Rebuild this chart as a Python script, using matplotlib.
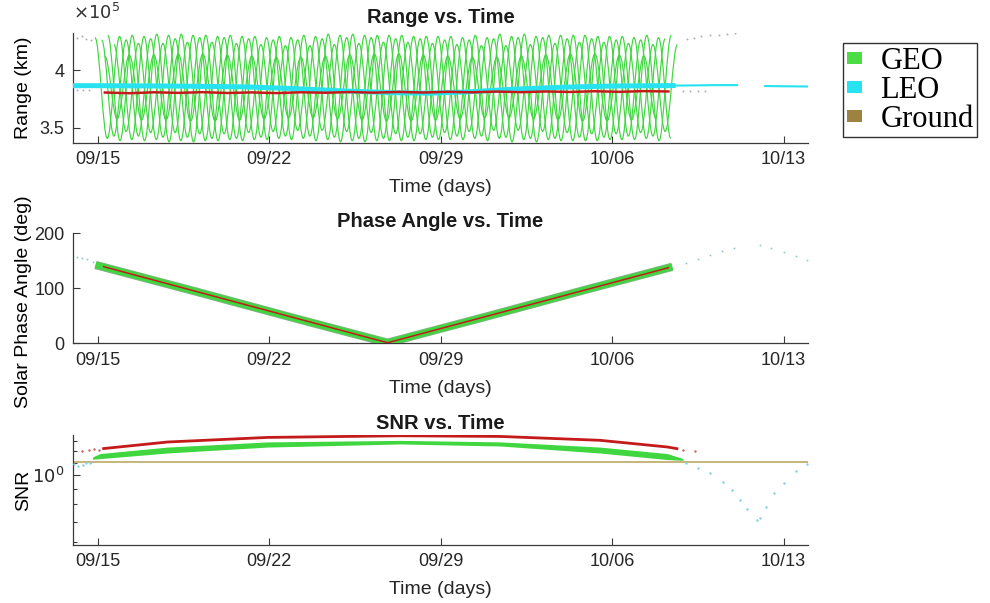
import numpy as np
import matplotlib
matplotlib.use("Agg")
import matplotlib.pyplot as plt
from matplotlib.path import Path
from matplotlib.patches import PathPatch, Patch
from matplotlib.ticker import FixedLocator, NullFormatter, FixedFormatter

plt.rcParams['font.family'] = ['Liberation Sans', 'DejaVu Sans']

# ---------------- data (time in days since 09/15 00:00) ----------------
tick_days = [0, 7, 14, 21, 28]
tick_labels = ["09/15", "09/22", "09/29", "10/06", "10/13"]
x_limits = (-1.0, 29.0)

# GEO observers: range to target (1e5 km), alternating peak / trough every half day
geo_start_day = [-0.10, 0.17, 0.42, 0.67, 0.30]
geo_a_peaks = [4.28,4.29,4.29,4.30,4.30,4.29,4.29,4.28,4.28,4.29,4.30,4.30,4.30,4.29,4.29,4.28,4.28,4.29,4.29,4.30,4.30,4.29,4.28,4.28]
geo_a_troughs = [3.41,3.40,3.40,3.39,3.39,3.40,3.40,3.41,3.41,3.40,3.39,3.39,3.39,3.40,3.40,3.41,3.41,3.40,3.40,3.39,3.39,3.40,3.41,3.41]
geo_b_peaks = [4.26,4.26,4.27,4.27,4.28,4.28,4.27,4.26,4.26,4.27,4.28,4.28,4.27,4.27,4.26,4.26,4.27,4.28,4.28,4.27,4.27,4.26,4.26,4.27]
geo_b_troughs = [3.43,3.43,3.42,3.42,3.41,3.41,3.42,3.43,3.43,3.42,3.41,3.41,3.42,3.42,3.43,3.43,3.42,3.41,3.41,3.42,3.42,3.43,3.43]
geo_c_peaks = [4.30,4.30,4.31,4.31,4.30,4.30,4.29,4.29,4.30,4.31,4.31,4.30,4.30,4.29,4.29,4.30,4.31,4.31,4.30,4.30,4.29,4.29,4.30,4.30]
geo_c_troughs = [3.39,3.39,3.38,3.38,3.39,3.39,3.40,3.40,3.39,3.38,3.38,3.39,3.39,3.40,3.40,3.39,3.38,3.38,3.39,3.39,3.40,3.40,3.39]
geo_d_peaks = [4.22,4.23,4.23,4.24,4.24,4.23,4.22,4.21,4.21,4.22,4.23,4.24,4.24,4.23,4.22,4.21,4.21,4.22,4.23,4.24,4.24,4.23,4.22,4.22]
geo_d_troughs = [3.47,3.46,3.46,3.45,3.45,3.46,3.47,3.48,3.48,3.47,3.46,3.45,3.45,3.46,3.47,3.48,3.48,3.47,3.46,3.45,3.45,3.46,3.47]
geo_e_peaks = [4.12,4.13,4.13,4.14,4.14,4.13,4.12,4.11,4.11,4.12,4.13,4.14,4.14,4.13,4.12,4.11,4.11,4.12,4.13,4.14,4.14,4.13,4.12]
geo_e_troughs = [3.58,3.57,3.57,3.56,3.56,3.57,3.58,3.59,3.59,3.58,3.57,3.56,3.56,3.57,3.58,3.59,3.59,3.58,3.57,3.56,3.56,3.57,3.58]

# LEO range band (1e5 km)
leo_days = [-1.0, 0.0, 3.0, 6.0, 8.0, 10.0, 12.0, 13.5, 15.0, 17.0, 19.0, 21.0, 23.6]
leo_range = [3.865, 3.865, 3.862, 3.855, 3.84, 3.82, 3.805, 3.80, 3.81, 3.835, 3.852, 3.862, 3.866]
leo_tail_days = [23.6, 24.5, 25.3, 26.1]
leo_tail_range = [3.866, 3.868, 3.870, 3.870]
leo_late_days = [27.25, 28.0, 29.0]
leo_late_range = [3.862, 3.860, 3.858]

# Ground range (1e5 km)
ground_range_days = [0.3,1.3,2.3,3.3,4.3,5.3,6.3,7.3,8.3,9.3,10.3,11.3,12.3,13.3,14.3,15.3,16.3,17.3,18.3,19.3,20.3,21.3,22.3,23.3]
ground_range = [3.806,3.800,3.808,3.803,3.809,3.802,3.807,3.801,3.808,3.804,3.810,3.805,3.811,3.806,3.812,3.808,3.814,3.809,3.815,3.811,3.817,3.812,3.818,3.815]

# faint points outside GEO coverage (range plot)
faint_range_days = [-0.85, -0.65, -0.45, -0.25, 24.05, 24.35, 24.65, 25.0, 25.35, 25.7, 26.0,
                    -0.85, -0.6, -0.35, 23.9, 24.2, 24.5, 24.8]
faint_range_vals = [4.28, 4.29, 4.27, 4.26, 4.27, 4.28, 4.29, 4.30, 4.305, 4.31, 4.32,
                    3.83, 3.83, 3.83, 3.82, 3.82, 3.82, 3.82]

# Solar phase angle (deg)
phase_days = [-0.08, 4.0, 8.0, 11.84, 16.0, 20.0, 23.46]
phase_geo = [142, 94, 46, 1, 50, 98, 138.7]
phase_ground_days = [0.25, 11.84, 23.3]
phase_ground = [139, 1, 137]
phase_faint_days = [-0.83, -0.62, -0.42, -0.2, 24.0, 24.5, 25.0, 25.5, 25.96, 27.06, 27.5, 28.0, 28.5, 28.97]
phase_faint = [156, 154, 152, 148, 146, 153, 160, 167, 173, 178, 172, 165, 158, 151]

# SNR
snr_ground_days = [-1.0, 29.0]
snr_ground = [1.105, 1.105]
snr_geo_days = [-0.2, 0.1, 2.86, 6.94, 12.37, 16.45, 20.5, 23.25, 23.9]
snr_geo_hi = [1.15, 1.18, 1.24, 1.29, 1.305, 1.29, 1.24, 1.18, 1.135]
snr_geo_lo = [1.13, 1.135, 1.185, 1.24, 1.27, 1.25, 1.185, 1.127, 1.12]
snr_red_days = [0.25, 2.86, 6.94, 12.37, 16.45, 20.5, 23.25, 23.65]
snr_red = [1.226, 1.289, 1.335, 1.352, 1.345, 1.306, 1.241, 1.225]
snr_red_dot_days = [-0.65, -0.35, -0.15, 0.05, 23.9, 24.4]
snr_red_dot = [1.20, 1.21, 1.22, 1.215, 1.21, 1.20]
snr_leo_days = [-0.95, -0.8, -0.6, -0.45, -0.3, 24.0, 24.5, 25.0, 25.55, 25.9, 26.24, 26.5, 26.9,
                27.05, 27.3, 27.6, 28.0, 28.5, 28.97]
snr_leo = [1.09, 1.075, 1.08, 1.095, 1.10, 1.096, 1.06, 1.02, 0.95, 0.89, 0.83, 0.77, 0.71,
           0.72, 0.785, 0.87, 0.94, 1.03, 1.09]

legend_labels = ["GEO", "LEO", "Ground"]

# ---------------- colours ----------------
c_geo = '#3fd63f'
c_leo = '#27e3ef'
c_red = '#c41a1a'
c_ground = '#c2b070'
c_axis = '#3a3a3a'


def wave_path(t, v, k=0.364):
    verts = [(t[0], v[0])]
    codes = [Path.MOVETO]
    for i in range(1, len(t)):
        h = t[i] - t[i - 1]
        verts += [(t[i - 1] + k * h, v[i - 1]), (t[i] - k * h, v[i]), (t[i], v[i])]
        codes += [Path.CURVE4] * 3
    return Path(verts, codes)


def interleave(peaks, troughs):
    out = []
    for i in range(len(peaks) + len(troughs)):
        out.append(peaks[i // 2] if i % 2 == 0 else troughs[i // 2])
    return out


fig = plt.figure(figsize=(9.9, 6.03), dpi=100)
L, W = 73 / 990, 735 / 990
ax1 = fig.add_axes([L, 1 - 143 / 603, W, 110 / 603])
ax2 = fig.add_axes([L, 1 - 343.3 / 603, W, 110.3 / 603])
ax3 = fig.add_axes([L, 1 - 545 / 603, W, 110 / 603])

# ---- Range ----
traces = [(geo_a_peaks, geo_a_troughs), (geo_b_peaks, geo_b_troughs), (geo_c_peaks, geo_c_troughs),
          (geo_d_peaks, geo_d_troughs), (geo_e_peaks, geo_e_troughs)]
for (pk, tr), t0 in zip(traces, geo_start_day):
    vals = interleave(pk, tr)
    t = t0 + 0.5 * np.arange(len(vals))
    ax1.add_patch(PathPatch(wave_path(t, vals), facecolor='none', edgecolor=c_geo, lw=0.85, zorder=2))
ax1.scatter(faint_range_days, faint_range_vals, s=2, color='#a8b0b8', zorder=2, linewidths=0)
ax1.plot(leo_days, leo_range, color=c_leo, lw=3.6, zorder=3, solid_capstyle='butt')
ax1.plot(leo_tail_days, leo_tail_range, color=c_leo, lw=1.5, zorder=3)
ax1.plot(leo_late_days, leo_late_range, color=c_leo, lw=1.5, zorder=3)
ax1.plot(ground_range_days, ground_range, color=c_red, lw=1.8, zorder=4)
ax1.set_ylim(3.37, 4.32)
ax1.set_yticks([3.5, 4.0])
ax1.set_yticklabels(["3.5", "4"])
ax1.set_title("Range vs. Time", fontsize=14.5, fontweight='bold', pad=7)
ax1.set_ylabel("Range (km)", fontsize=14)
ax1.text(0.0, 1.09, r"$\times10^5$", transform=ax1.transAxes, fontsize=13, color='#333333',
         ha='left', va='bottom')

# ---- Phase angle ----
ax2.scatter(phase_faint_days, phase_faint, s=2, color='#9cc8d0', zorder=2, linewidths=0)
ax2.plot(phase_days, phase_geo, color='#7cb47c', lw=6.0, zorder=2, solid_capstyle='butt')
ax2.plot(phase_days, phase_geo, color=c_geo, lw=4.6, zorder=3, solid_capstyle='butt')
ax2.plot(phase_ground_days, phase_ground, color=c_red, lw=1.1, zorder=4)
ax2.set_ylim(0, 200)
ax2.set_yticks([0, 100, 200])
ax2.set_title("Phase Angle vs. Time", fontsize=14.5, fontweight='bold', pad=4)
ax2.set_ylabel("Solar Phase Angle (deg)", fontsize=14)

# ---- SNR ----
ax3.set_yscale('log')
ax3.plot(snr_ground_days, snr_ground, color=c_ground, lw=1.3, zorder=2)
ax3.fill_between(snr_geo_days, snr_geo_lo, snr_geo_hi, color=c_geo, lw=0, zorder=3)
ax3.plot(snr_red_days, snr_red, color=c_red, lw=2.0, zorder=4)
ax3.scatter(snr_red_dot_days, snr_red_dot, s=3, color='#d06060', zorder=4, linewidths=0)
ax3.scatter(snr_leo_days, snr_leo, s=3, color='#7fd3e0', zorder=4, linewidths=0)
ax3.set_ylim(0.586, 1.36)
ax3.yaxis.set_major_locator(FixedLocator([1.0]))
ax3.yaxis.set_major_formatter(FixedFormatter([r"$10^0$"]))
ax3.yaxis.set_minor_locator(FixedLocator([0.6, 0.7, 0.8, 0.9, 1.1, 1.2, 1.3]))
ax3.yaxis.set_minor_formatter(NullFormatter())
ax3.set_title("SNR vs. Time", fontsize=14.5, fontweight='bold', pad=4)
ax3.set_ylabel("SNR", fontsize=14)

for ax in (ax1, ax2, ax3):
    ax.set_xlim(*x_limits)
    ax.set_xticks(tick_days)
    ax.set_xticklabels(tick_labels)
    ax.set_xlabel("Time (days)", fontsize=14, labelpad=8, color='#262626')
    for s in ('top', 'right'):
        ax.spines[s].set_visible(False)
    for s in ('left', 'bottom'):
        ax.spines[s].set_color(c_axis)
        ax.spines[s].set_linewidth(0.9)
    ax.tick_params(which='both', direction='in', colors=c_axis, labelcolor='#262626',
                   labelsize=13, length=5, width=0.8, pad=6)
    ax.tick_params(which='minor', length=3)
    ax.yaxis.set_label_coords((32 - 73) / 735, 0.5)
    ax.title.set_color('#1a1a1a')
ax2.yaxis.set_label_coords((32 - 73) / 735, 0.38)

handles = [Patch(facecolor='#4cdd44', edgecolor='none'),
           Patch(facecolor=c_leo, edgecolor='none'),
           Patch(facecolor='#9c8440', edgecolor='none')]
leg = fig.legend(handles, legend_labels, loc='upper left', bbox_to_anchor=(843 / 990, 1 - 43 / 603),
                 bbox_transform=fig.transFigure, frameon=True, fancybox=False, shadow=False,
                 prop={'family': 'Liberation Serif', 'size': 22}, handlelength=0.5, handleheight=0.22,
                 handletextpad=0.6, labelspacing=0.0, borderpad=0.12, borderaxespad=0)
leg.get_frame().set_edgecolor('black')
leg.get_frame().set_linewidth(1.0)

fig.savefig("out.png", dpi=100)
